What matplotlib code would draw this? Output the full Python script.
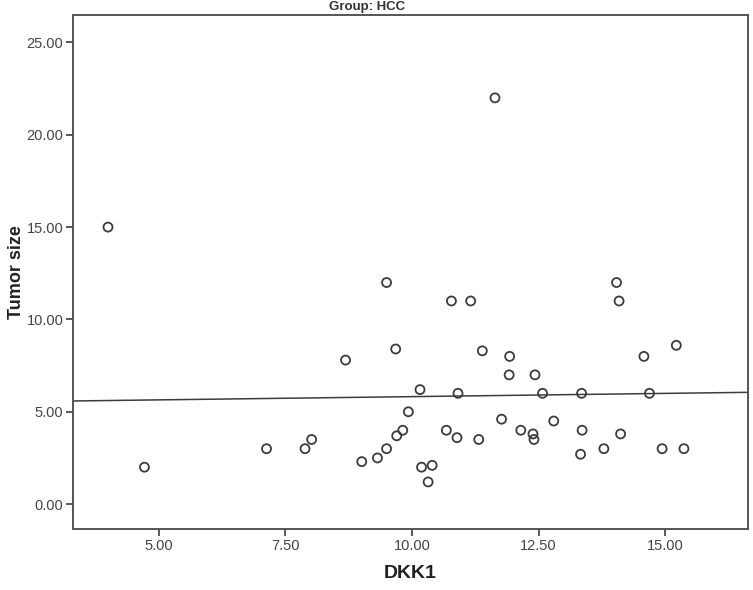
import numpy as np
import matplotlib.pyplot as plt

plt.rcParams['font.family'] = ['Liberation Sans', 'DejaVu Sans']

# DKK1 vs tumor size, group HCC
dkk1 = [4.00, 9.50, 9.68, 8.69, 9.93, 4.72, 7.13, 7.89, 8.02, 9.01,
        9.32, 9.50, 9.70, 9.82, 10.78, 11.16, 14.04, 14.09, 11.39, 11.93,
        11.92, 12.43, 14.58, 15.22, 10.16, 10.91, 12.58, 13.35, 14.69, 10.68,
        10.89, 11.32, 11.77, 12.15, 12.39, 12.41, 12.80, 13.36, 13.33, 13.79,
        14.12, 14.94, 15.37, 10.19, 10.40, 10.32, 11.64]
tumor_size = [15.0, 12.0, 8.4, 7.8, 5.0, 2.0, 3.0, 3.0, 3.5, 2.3,
              2.5, 3.0, 3.7, 4.0, 11.0, 11.0, 12.0, 11.0, 8.3, 8.0,
              7.0, 7.0, 8.0, 8.6, 6.2, 6.0, 6.0, 6.0, 6.0, 4.0,
              3.6, 3.5, 4.6, 4.0, 3.8, 3.5, 4.5, 4.0, 2.7, 3.0,
              3.8, 3.0, 3.0, 2.0, 2.1, 1.2, 22.0]

x_ticks = [5.0, 7.5, 10.0, 12.5, 15.0]
y_ticks = [0, 5, 10, 15, 20, 25]

fig = plt.figure(figsize=(7.53, 5.90), dpi=100)
ax = fig.add_axes([0.097, 0.103, 0.896, 0.872])

ax.scatter(dkk1, tumor_size, s=42, facecolors='none', edgecolors='#3c3c3c',
           linewidths=1.3, zorder=3)

# linear fit line across the full x range
xmin, xmax = 3.31, 16.63
slope, intercept = np.polyfit(dkk1, tumor_size, 1)
xs = np.array([xmin, xmax])
ax.plot(xs, intercept + slope * xs, color='#3c3c3c', lw=1.1, zorder=2)

ax.set_xlim(xmin, xmax)
ax.set_ylim(-1.36, 26.5)
ax.set_xticks(x_ticks)
ax.set_yticks(y_ticks)
ax.set_xticklabels([f'{v:.2f}' for v in x_ticks])
ax.set_yticklabels([f'{v:.2f}' for v in y_ticks])
ax.tick_params(direction='out', length=5, width=1.2, colors='#3c3c3c',
               labelsize=10.5, labelcolor='#444444', pad=2)

for s in ax.spines.values():
    s.set_color('#555555')
    s.set_linewidth(1.4)

ax.set_xlabel('DKK1', fontsize=14, fontweight='bold', color='#222222')
ax.set_ylabel('Tumor size', fontsize=13, fontweight='bold', color='#222222')
ax.xaxis.set_label_coords(0.5, -0.07)
ax.yaxis.set_label_coords(-0.071, 0.5)
fig.text(0.488, 0.988, 'Group: HCC', ha='center', va='center',
         fontsize=9.5, fontweight='bold', color='#333333')

fig.savefig('out.png', dpi=100)
